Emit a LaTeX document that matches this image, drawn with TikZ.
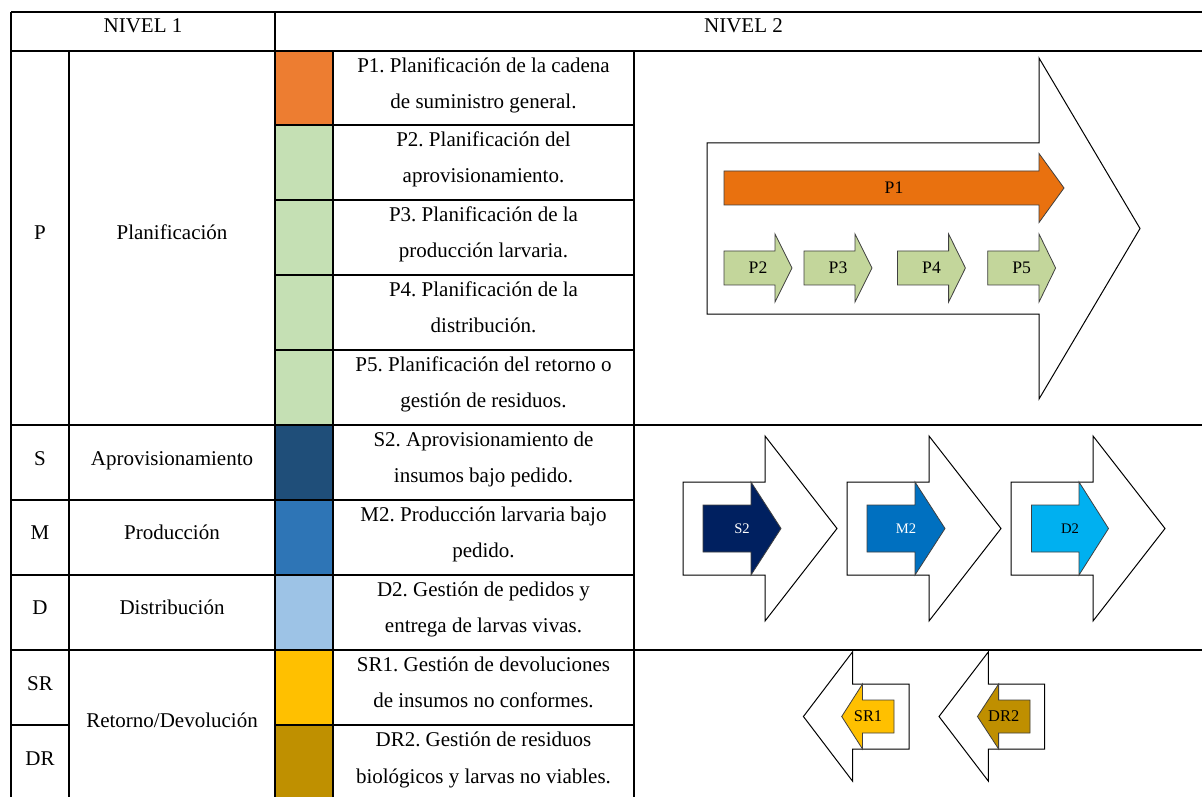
\documentclass[tikz,border=0pt]{standalone}
\usepackage{fontspec}
\setmainfont{Liberation Serif}
\frenchspacing
\definecolor{cellorange}{HTML}{ED7D31}
\definecolor{cellgreen}{HTML}{C5E0B4}
\definecolor{cellnavy}{HTML}{1F4E79}
\definecolor{cellblue}{HTML}{2E75B6}
\definecolor{celllight}{HTML}{9DC3E6}
\definecolor{cellyellow}{HTML}{FFC000}
\definecolor{cellgold}{HTML}{BF9000}
\definecolor{arrorange}{HTML}{E9710F}
\definecolor{arrgreen}{HTML}{C3D69B}
\definecolor{arrnavy}{HTML}{002060}
\definecolor{arrblue}{HTML}{0070C0}
\definecolor{arrsky}{HTML}{00B0F0}
\definecolor{arrgold}{HTML}{BF8F00}
\def\mytextx{483.5}
\def\myright{1212}
\def\mybottom{800}
% block arrow: back x, base x, tip x, centre y, half body, half head
\newcommand{\blockarrow}[7][]{%
  \draw[#1] (#2,#5-#6) -- (#3,#5-#6) -- (#3,#5-#7) -- (#4,#5)
    -- (#3,#5+#7) -- (#3,#5+#6) -- (#2,#5+#6) -- cycle;}
\tikzset{
grid line/.style={line width=0.9pt,black},
cell/.style={inner sep=0pt,anchor=base,font=\fontsize{10.5}{18.2}\selectfont},
cell text/.style={cell,align=center},
big arrow/.style={draw=black,fill=white,line width=0.5pt},
small arrow/.style={draw=black!75,line width=0.4pt},
p label/.style={inner sep=0pt,font=\fontsize{8.8}{10}\selectfont},
s label/.style={inner sep=0pt,font=\fontsize{7.3}{9}\selectfont},
r label/.style={inner sep=0pt,font=\fontsize{8.2}{10}\selectfont},
}
\begin{document}
\begin{tikzpicture}[x=0.5pt,y=-0.5pt]
\useasboundingbox (0,0) rectangle (1202,796);
\clip (0,0) rectangle (1202,796);
% colour column
\fill[cellorange] (275,51) rectangle (333,125);
\fill[cellgreen] (275,125) rectangle (333,425);
\fill[cellnavy] (275,425) rectangle (333,500);
\fill[cellblue] (275,500) rectangle (333,575);
\fill[celllight] (275,575) rectangle (333,650);
\fill[cellyellow] (275,650) rectangle (333,725);
\fill[cellgold] (275,725) rectangle (333,\mybottom);
% table rules
\begin{scope}[grid line]
\draw (11,12) -- (\myright,12);
\draw (11,51) -- (\myright,51);
\draw (11,425) -- (\myright,425);
\draw (11,650) -- (\myright,650);
\draw (11,500) -- (634,500);
\draw (11,575) -- (634,575);
\draw (11,725) -- (69,725);
\draw (275,725) -- (634,725);
\draw (275,125) -- (634,125);
\draw (275,200) -- (634,200);
\draw (275,275) -- (634,275);
\draw (275,350) -- (634,350);
\draw (11,12) -- (11,\mybottom);
\draw (275,12) -- (275,\mybottom);
\draw (69,51) -- (69,\mybottom);
\draw (333,51) -- (333,\mybottom);
\draw (634,51) -- (634,\mybottom);
\end{scope}
% headers
\node[cell] (niv1) at (143,32.3) {NIVEL 1};
\node[cell] (niv2) at (743.5,32.3) {NIVEL 2};
% nivel 1
\node[cell] (c-p) at (40,240) {P};
\node[cell] (n-p) at (172,240) {Planificación};
\node[cell] (c-s) at (40,465) {S};
\node[cell] (n-s) at (172,465) {Aprovisionamiento};
\node[cell] (c-m) at (40,539) {M};
\node[cell] (n-m) at (172,539) {Producción};
\node[cell] (c-d) at (40,614) {D};
\node[cell] (n-d) at (172,614) {Distribución};
\node[cell] (c-sr) at (40,690.5) {SR};
\node[cell] (c-dr) at (40,765) {DR};
\node[cell] (n-r) at (172,727.5) {Retorno/Devolución};
% nivel 2 texts (base = last line)
\node[cell text] (t-p1) at (\mytextx,108.5) {P1. Planificación de la cadena\\de suministro general.};
\node[cell text] (t-p2) at (\mytextx,182.5) {P2. Planificación del\\aprovisionamiento.};
\node[cell text] (t-p3) at (\mytextx,257.5) {P3. Planificación de la\\producción larvaria.};
\node[cell text] (t-p4) at (\mytextx,332.5) {P4. Planificación de la\\distribución.};
\node[cell text] (t-p5) at (\mytextx,407.5) {P5. Planificación del retorno o\\gestión de residuos.};
\node[cell text] (t-s2) at (\mytextx,482.5) {S2. Aprovisionamiento de\\insumos bajo pedido.};
\node[cell text] (t-m2) at (\mytextx,557.5) {M2. Producción larvaria bajo\\pedido.};
\node[cell text] (t-d2) at (\mytextx,632.5) {D2. Gestión de pedidos y\\entrega de larvas vivas.};
\node[cell text] (t-sr1) at (\mytextx,707.5) {SR1. Gestión de devoluciones\\de insumos no conformes.};
\node[cell text] (t-dr2) at (\mytextx,783) {DR2. Gestión de residuos\\biológicos y larvas no viables.};
% planning arrows
\blockarrow[big arrow]{707}{1039}{1140}{228.5}{85.5}{170.5}
\blockarrow[small arrow,fill=arrorange]{724}{1039}{1064}{188}{17}{34.5}
\blockarrow[small arrow,fill=arrgreen]{724}{775}{792}{268}{17}{34}
\blockarrow[small arrow,fill=arrgreen]{804}{855}{872}{268}{17}{34}
\blockarrow[small arrow,fill=arrgreen]{897.5}{948.6}{965.4}{268}{17}{34}
\blockarrow[small arrow,fill=arrgreen]{987.7}{1039}{1055.6}{268}{17}{34}
\node[p label] (a-p1) at (894,188) {P1};
\node[p label] (a-p2) at (758,268) {P2};
\node[p label] (a-p3) at (838,268) {P3};
\node[p label] (a-p4) at (931.5,268) {P4};
\node[p label] (a-p5) at (1021.7,268) {P5};
% S M D arrows
\blockarrow[big arrow]{683}{765}{837}{528.5}{46.5}{92.5}
\blockarrow[small arrow,fill=arrnavy]{703}{751}{781}{528.5}{23.5}{46.5}
\blockarrow[big arrow]{847}{929}{1001}{528.5}{46.5}{92.5}
\blockarrow[small arrow,fill=arrblue]{867}{915}{945}{528.5}{23.5}{46.5}
\blockarrow[big arrow]{1011}{1093}{1165}{528.5}{46.5}{92.5}
\blockarrow[small arrow,fill=arrsky]{1031.5}{1079}{1108.5}{528.5}{23.5}{46.5}
\node[s label,white] (a-s2) at (742,528.5) {S2};
\node[s label,white] (a-m2) at (906,528.5) {M2};
\node[s label] (a-d2) at (1070,528.5) {D2};
% return arrows
\blockarrow[big arrow]{909}{852.6}{803.4}{716.5}{32.5}{64.7}
\blockarrow[small arrow,fill=cellyellow]{894}{862.5}{841.7}{716.5}{16.5}{32.5}
\blockarrow[big arrow]{1044.6}{988.4}{939}{716.5}{32.5}{64.7}
\blockarrow[small arrow,fill=arrgold]{1030}{998.6}{977.4}{716.5}{16.5}{32.5}
\node[r label] (a-sr1) at (868,716.5) {SR1};
\node[r label] (a-dr2) at (1003.7,716.5) {DR2};
\end{tikzpicture}
\end{document}
